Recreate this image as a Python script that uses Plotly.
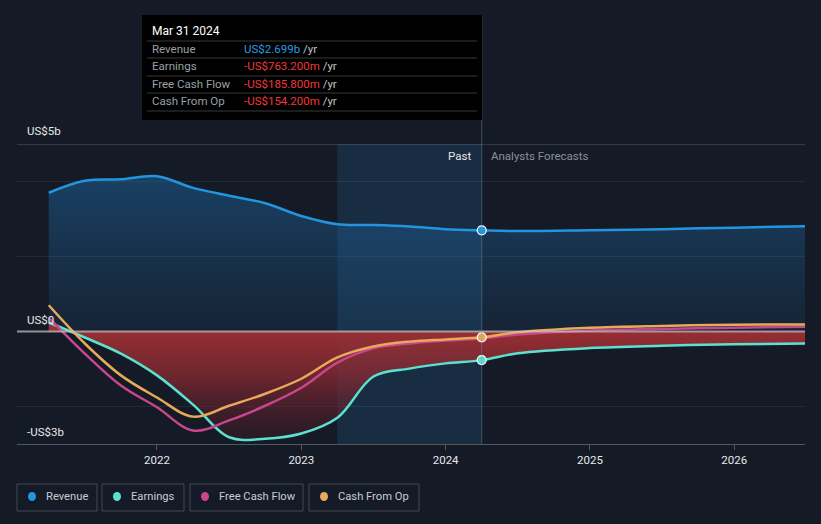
import plotly.graph_objects as go

# ---------------- data (US$ billions, decimal years) ----------------
past_x = [2021.25, 2021.5, 2021.75, 2022.0, 2022.25, 2022.5, 2022.75, 2023.0, 2023.25, 2023.5, 2023.75, 2024.0, 2024.25]
rev_past = [3.70, 4.02, 4.06, 4.14, 3.83, 3.62, 3.42, 3.08, 2.86, 2.84, 2.80, 2.73, 2.699]
earn_past = [0.24, -0.16, -0.59, -1.17, -1.95, -2.82, -2.86, -2.72, -2.30, -1.20, -0.99, -0.85, -0.7632]
fcf_past = [0.37, -0.59, -1.44, -2.02, -2.64, -2.37, -1.98, -1.50, -0.83, -0.45, -0.32, -0.24, -0.1858]
cfo_past = [0.70, -0.32, -1.17, -1.76, -2.27, -1.98, -1.66, -1.26, -0.69, -0.40, -0.27, -0.21, -0.1542]

fc_x = [2024.25, 2024.5, 2025.0, 2025.5, 2026.0, 2026.5]
rev_fc = [2.699, 2.68, 2.70, 2.73, 2.77, 2.81]
earn_fc = [-0.7632, -0.58, -0.44, -0.38, -0.34, -0.32]
fcf_fc = [-0.1858, -0.08, 0.03, 0.07, 0.10, 0.13]
cfo_fc = [-0.1542, -0.02, 0.10, 0.15, 0.18, 0.19]

year_ticks = [2022, 2023, 2024, 2025, 2026]
names = ["Revenue", "Earnings", "Free Cash Flow", "Cash From Op"]
colors = ["#2394df", "#5ce1cf", "#c8468c", "#e8a95a"]

tooltip_date = "Mar 31 2024"
tooltip_vals = ["US$2.699b", "-US$763.200m", "-US$185.800m", "-US$154.200m"]

X0, X1 = 2021.03, 2026.49
Y0, Y1 = -3.0, 5.0
BG = "#151b26"

# pixel helpers (plot area: x 17..805, y 144..444)
L, R, T, B = 17, 805, 144, 444
def px(x):
    return (x - L) / (R - L)
def py(y):
    return (B - y) / (B - T)

fig = go.Figure()

# past highlight band
fig.add_shape(type="rect", xref="x", yref="paper", x0=2023.25, x1=2024.25, y0=0, y1=1,
              fillcolor="rgba(35,110,170,0.22)", line_width=0, layer="below")

all_x = past_x + fc_x[1:]
rev_all = rev_past + rev_fc[1:]
earn_all = earn_past + earn_fc[1:]
fcf_all = fcf_past + fcf_fc[1:]
cfo_all = cfo_past + cfo_fc[1:]

# fills
fig.add_trace(go.Scatter(x=all_x, y=rev_all, mode="lines", line=dict(width=0, shape="spline"),
                         fill="tozeroy",
                         fillgradient=dict(type="vertical",
                                           colorscale=[[0, "rgba(30,100,160,0.12)"], [1, "rgba(30,110,175,0.45)"]]),
                         hoverinfo="skip", showlegend=False))
fig.add_trace(go.Scatter(x=all_x, y=earn_all, mode="lines", line=dict(width=0, shape="spline"),
                         fill="tozeroy",
                         fillgradient=dict(type="vertical",
                                           colorscale=[[0, "rgba(80,25,40,0.3)"], [0.55, "rgba(140,42,50,0.75)"],
                                                       [1, "rgba(160,48,52,1)"]]),
                         hoverinfo="skip", showlegend=False))

# lines
for nm, ys, c in zip(names, [rev_all, earn_all, fcf_all, cfo_all], colors):
    fig.add_trace(go.Scatter(x=all_x, y=ys, mode="lines", name=nm,
                             line=dict(color=c, width=2.5, shape="spline"), showlegend=False))

# markers at last actual point
for ys, c in zip([rev_past, earn_past, cfo_past], [colors[0], colors[1], colors[3]]):
    fig.add_trace(go.Scatter(x=[past_x[-1]], y=[ys[-1]], mode="markers",
                             marker=dict(size=9, color=c, line=dict(color="white", width=1.2)),
                             showlegend=False, hoverinfo="skip"))

# zero line and top line
fig.add_shape(type="line", xref="paper", yref="y", x0=0, x1=1, y0=0, y1=0,
              line=dict(color="rgba(200,200,200,0.7)", width=2))
fig.add_shape(type="line", xref="paper", yref="y", x0=0, x1=1, y0=Y1, y1=Y1,
              line=dict(color="rgba(200,200,200,0.35)", width=1))
# divider
fig.add_shape(type="line", xref="x", yref="paper", x0=2024.25, x1=2024.25, y0=0, y1=py(15),
              line=dict(color="rgba(120,140,160,0.45)", width=1))

# tooltip box
fig.add_shape(type="rect", xref="paper", yref="paper", x0=px(142), x1=px(482), y0=py(120), y1=py(15),
              fillcolor="#000000", line_width=0)
for yy in [41, 58, 76, 93, 111]:
    fig.add_shape(type="line", xref="paper", yref="paper", x0=px(147), x1=px(477), y0=py(yy), y1=py(yy),
                  line=dict(color="rgba(255,255,255,0.22)", width=1))

ann = []
ann.append(dict(x=px(150), y=py(31), text=tooltip_date, font=dict(color="white", size=12)))
row_y = [49, 66, 84, 101]
for nm, v, yy, i in zip(names, tooltip_vals, row_y, range(4)):
    vc = "#2d9be6" if i == 0 else "#f0383b"
    ann.append(dict(x=px(150), y=py(yy), text=nm, font=dict(color="#9aa0a6", size=11.5)))
    ann.append(dict(x=px(242), y=py(yy),
                    text=f"<span style='color:{vc}'>{v}</span><span style='color:#c0c4c8'> /yr</span>",
                    font=dict(size=11.5)))

# y labels
for t, yy in [("US$5b", 131), ("US$0", 320), ("-US$3b", 432)]:
    ann.append(dict(x=px(25), y=py(yy), text=t, font=dict(color="#e6e8ea", size=11.5)))

# past / forecast labels
ann.append(dict(x=px(473), y=py(156), text="Past", xanchor="right", font=dict(color="#e6e8ea", size=11.5)))
ann.append(dict(x=px(489), y=py(156), text="Analysts Forecasts", font=dict(color="#8a9099", size=11.5)))

# legend boxes
boxes = [(17, 97), (102, 184), (190, 303), (309, 419)]
for (a, b), nm, c in zip(boxes, names, colors):
    fig.add_shape(type="rect", xref="paper", yref="paper", x0=px(a), x1=px(b), y0=py(511), y1=py(484),
                  line=dict(color="rgba(255,255,255,0.2)", width=1), fillcolor="rgba(0,0,0,0)")
    fig.add_shape(type="circle", xref="paper", yref="paper", x0=px(a + 11), x1=px(a + 19),
                  y0=py(501), y1=py(492), fillcolor=c, line_width=0)
    ann.append(dict(x=px(a + 27), y=py(496), text=nm, font=dict(color="#c8ccd0", size=11.2)))

for a in ann:
    a.setdefault("xref", "paper")
    a.setdefault("yref", "paper")
    a.setdefault("xanchor", "left")
    a["yanchor"] = "middle"
    a["showarrow"] = False
fig.update_layout(annotations=ann)

fig.update_layout(
    width=821, height=524,
    margin=dict(l=L, r=821 - R, t=T, b=524 - B),
    paper_bgcolor=BG, plot_bgcolor=BG,
    font=dict(family="Roboto, sans-serif", color="#e6e8ea"),
    showlegend=False,
    xaxis=dict(range=[X0, X1], tickvals=year_ticks, ticktext=[str(v) for v in year_ticks],
               showgrid=False, zeroline=False, showline=True, linecolor="rgba(200,200,200,0.35)",
               ticks="outside", ticklen=5, tickcolor="rgba(200,200,200,0.35)",
               tickfont=dict(size=11.5, color="#e6e8ea"), fixedrange=True),
    yaxis=dict(range=[Y0, Y1], tickvals=[-2, 2, 4], showticklabels=False,
               showgrid=True, gridcolor="rgba(255,255,255,0.07)", gridwidth=1,
               zeroline=False, fixedrange=True),
)

fig.write_html("out.html")
